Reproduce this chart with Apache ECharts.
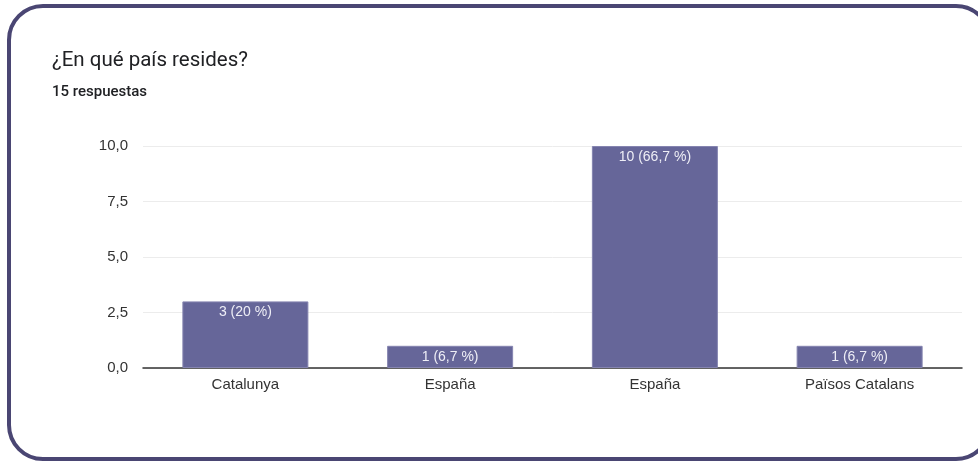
<!DOCTYPE html>
<html>
<head>
<meta charset="utf-8">
<script src="https://cdn.jsdelivr.net/npm/echarts@6/dist/echarts.min.js"></script>
<style>
  html, body { margin: 0; padding: 0; background: #fff; }
  #chart { width: 978px; height: 461px; }
</style>
</head>
<body>
<div id="chart"></div>
<script>
// Survey answers: "¿En qué país resides?"
const titleText = '¿En qué país resides?';
const subtitleText = '15 respuestas';
const categories = ['Catalunya', 'España', 'España', 'Països Catalans'];
const counts = [3, 1, 10, 1];
const totalResponses = 15;
const yTicks = [0, 2.5, 5, 7.5, 10];

const fmtComma = (v, digits) => v.toFixed(digits).replace('.', ',');
const pctText = v => {
  const p = Math.round(v / totalResponses * 1000) / 10;
  return Number.isInteger(p) ? String(p) : fmtComma(p, 1);
};

const chart = echarts.init(document.getElementById('chart'), null, { renderer: 'canvas' });
chart.setOption({
  backgroundColor: '#ffffff',
  animation: false,
  graphic: [
    {
      type: 'rect',
      shape: { x: 9, y: 6, width: 981, height: 453, r: 34 },
      style: { fill: 'none', stroke: '#4a4673', lineWidth: 4 },
      z: 10
    },
    {
      type: 'text',
      left: 52, top: 50,
      style: { text: titleText, font: '20.5px Roboto', fill: '#202124' }
    },
    {
      type: 'text',
      left: 52, top: 85,
      style: { text: subtitleText, font: '500 15px Roboto', fill: '#202124' }
    }
  ],
  grid: { left: 143, right: 16, top: 146, bottom: 93 },
  xAxis: {
    type: 'category',
    data: categories,
    axisLine: { show: true, lineStyle: { color: '#333333', width: 1.5 } },
    axisTick: { show: false },
    axisLabel: { color: '#333333', fontFamily: 'Liberation Sans, Arial', fontSize: 15, margin: 9 }
  },
  yAxis: {
    type: 'value',
    min: yTicks[0],
    max: yTicks[yTicks.length - 1],
    interval: yTicks[1] - yTicks[0],
    axisLine: { show: false },
    axisTick: { show: false },
    splitLine: { lineStyle: { color: '#ececec', width: 1 } },
    axisLabel: {
      color: '#333333', fontFamily: 'Liberation Sans, Arial', fontSize: 15, margin: 15,
      formatter: v => fmtComma(v, 1)
    }
  },
  series: [{
    type: 'bar',
    data: counts,
    barWidth: 126,
    itemStyle: { color: '#666699', borderColor: '#8584b0', borderWidth: 1 },
    label: {
      show: true,
      position: 'insideTop',
      distance: 4,
      color: '#eeeef6',
      fontFamily: 'Liberation Sans, Arial',
      fontSize: 14,
      formatter: p => p.value + ' (' + pctText(p.value) + ' %)'
    }
  }]
});
</script>
</body>
</html>
